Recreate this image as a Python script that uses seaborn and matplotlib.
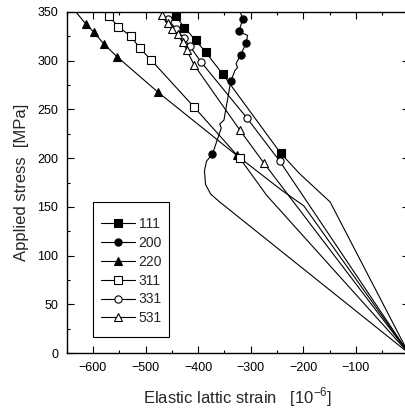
import matplotlib
matplotlib.use("Agg")
import matplotlib.pyplot as plt
import seaborn as sns
import pandas as pd
from matplotlib.ticker import MultipleLocator
from matplotlib.patches import Rectangle

# ---- data (strain in 1e-6, stress in MPa) ----
x_111 = [0, -149, -207, -243, -353, -386, -405, -426, -443]
y_111 = [0, 155, 184, 205, 286, 309, 321, 334, 346]
m_111 = [3, 4, 5, 6, 7, 8]

x_200 = [0, -359, -376, -386, -388, -384, -373, -356, -359, -351, -338, -330, -325, -328,
         -319, -309, -306, -315, -322, -315, -321]
y_200 = [0, 155, 163, 173, 187, 197, 204, 231, 235, 239, 279, 290, 293, 297,
         306, 318, 326, 328, 331, 343, 351]
m_200 = [6, 10, 14, 15, 18, 19]

x_220 = [0, -199, -241, -327, -477, -554, -579, -598, -614, -634]
y_220 = [0, 151, 167, 203, 268, 304, 317, 329, 338, 351]
m_220 = [3, 4, 5, 6, 7, 8]

x_311 = [0, -270, -286, -321, -407, -490, -511, -528, -552, -570]
y_311 = [0, 162, 174, 200, 252, 301, 313, 325, 335, 346]
m_311 = [3, 4, 5, 6, 7, 8, 9]

x_331 = [0, -245, -307, -395, -416, -427, -443, -458]
y_331 = [0, 197, 241, 299, 315, 323, 333, 343]
m_331 = [1, 2, 3, 4, 5, 6, 7]

x_531 = [0, -275, -321, -408, -422, -429, -439, -450, -458, -469]
y_531 = [0, 195, 229, 296, 311, 319, 327, 333, 339, 347]
m_531 = [1, 2, 3, 4, 5, 6, 7, 8, 9]

labels = ["111", "200", "220", "311", "331", "531"]
xticks = [-600, -500, -400, -300, -200, -100, 0]
yticks = [0, 50, 100, 150, 200, 250, 300, 350]

series = [
    (labels[0], x_111, y_111, m_111, "s", "black"),
    (labels[1], x_200, y_200, m_200, "o", "black"),
    (labels[2], x_220, y_220, m_220, "^", "black"),
    (labels[3], x_311, y_311, m_311, "s", "white"),
    (labels[4], x_331, y_331, m_331, "o", "white"),
    (labels[5], x_531, y_531, m_531, "^", "white"),
]

sns.set_style("ticks")
plt.rcParams["font.family"] = ["Liberation Sans", "DejaVu Sans"]
plt.rcParams["mathtext.fontset"] = "custom"
plt.rcParams["mathtext.rm"] = "Liberation Sans"

W, H = 405, 409
L, R, T, B = 66.7, 408.5, 12, 353
fig = plt.figure(figsize=(W / 100, H / 100), dpi=100)
ax = fig.add_axes([L / W, (H - B) / H, (R - L) / W, (B - T) / H])

for name, xs, ys, mk, marker, fc in series:
    df = pd.DataFrame({"x": xs, "y": ys})
    sns.lineplot(data=df, x="x", y="y", sort=False, estimator=None, ax=ax,
                 color="black", linewidth=0.8, marker=marker, markevery=mk,
                 markersize=5.2 if marker != "^" else 5.8, markerfacecolor=fc,
                 markeredgecolor="black", markeredgewidth=0.8, label=name)

ax.set_xlim(-650, 0)
ax.set_ylim(0, 350)
ax.set_xticks(xticks)
ax.set_yticks(yticks)
ax.xaxis.set_minor_locator(MultipleLocator(50))
ax.yaxis.set_minor_locator(MultipleLocator(25))
ax.tick_params(which="both", direction="in", top=True, right=True, width=0.8,
               labelsize=9, colors="black")
ax.tick_params(which="major", length=5)
ax.tick_params(which="minor", length=2.5)
ax.tick_params(axis="x", which="both", pad=6.5)
ax.tick_params(axis="y", which="both", pad=6)
for s in ax.spines.values():
    s.set_linewidth(1.0)
    s.set_color("black")

ax.set_xlabel("Elastic lattic strain   [10$^{\\mathregular{-6}}$]", fontsize=12, labelpad=8)
ax.set_ylabel("Applied stress  [MPa]", fontsize=12, labelpad=6)

# legend frame drawn as a plain rectangle (pixel box 93..169 x 202..337)
def px2ax(px, py):
    return (px - L) / (R - L), (B - py) / (B - T)

x0, y0 = px2ax(93, 337)
x1, y1 = px2ax(169, 202)
ax.add_patch(Rectangle((x0, y0), x1 - x0, y1 - y0, transform=ax.transAxes,
                       facecolor="white", edgecolor="black", linewidth=0.8, zorder=4))
lx, ly = px2ax(100.5, 217)
leg = ax.legend(loc="upper left", bbox_to_anchor=(lx, ly), frameon=False,
                fontsize=10, handlelength=2.5, labelspacing=0.35, borderpad=0,
                borderaxespad=0, handletextpad=0.25)
leg.set_zorder(5)

fig.savefig("out.png", dpi=100)
